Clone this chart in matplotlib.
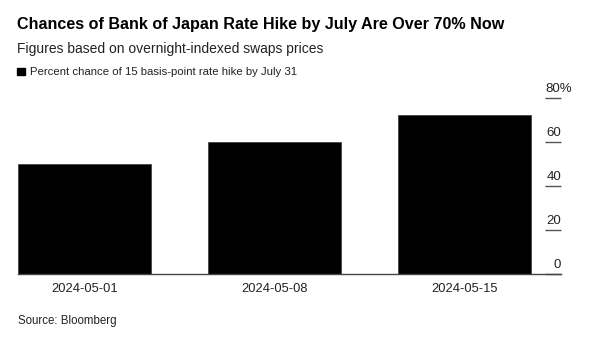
import matplotlib
matplotlib.use('Agg')
from matplotlib import pyplot as plt
import matplotlib.transforms as mtransforms
from matplotlib.patches import Rectangle

# data
dates = ['2024-05-01', '2024-05-08', '2024-05-15']
chance = [50, 60, 72]
yticks = [0, 20, 40, 60, 80]
ytick_labels = ['0', '20', '40', '60', '80%']

title = 'Chances of Bank of Japan Rate Hike by July Are Over 70% Now'
subtitle = 'Figures based on overnight-indexed swaps prices'
legend_label = 'Percent chance of 15 basis-point rate hike by July 31'
source = 'Source: Bloomberg'

plt.rcParams['font.family'] = ['Liberation Sans', 'DejaVu Sans']

W, H = 592, 337
fig = plt.figure(figsize=(W / 100, H / 100), dpi=100)
ax = fig.add_axes([18 / W, 63 / H, (561 - 18) / W, (274 - 97.7) / H])

x = list(range(len(dates)))
ax.bar(x, chance, width=0.7, color='black', edgecolor='#444', linewidth=0.6)

ax.set_xlim(-0.35, 2.51)
ax.set_ylim(0, 80)
ax.set_xticks(x)
ax.set_xticklabels(dates, fontsize=9.3, color='#222')
ax.tick_params(axis='x', length=0, pad=6.5)

ax.set_yticks(yticks)
ax.yaxis.tick_right()
ax.tick_params(axis='y', direction='in', length=11.5, width=1, color='#555', labelright=False)

for s in ['top', 'left', 'right']:
    ax.spines[s].set_visible(False)
ax.spines['bottom'].set_color('#444')
ax.spines['bottom'].set_linewidth(1)

# y labels sit above the tick lines; numbers right aligned, the top one hangs out
off = mtransforms.ScaledTranslation(0, 6 / 100, fig.dpi_scale_trans)
tr = mtransforms.blended_transform_factory(ax.transAxes, ax.transData) + off
off_top = mtransforms.ScaledTranslation(-16 / 100, 6 / 100, fig.dpi_scale_trans)
tr_top = mtransforms.blended_transform_factory(ax.transAxes, ax.transData) + off_top
for v, lab in zip(yticks, ytick_labels):
    if v == yticks[-1]:
        ax.text(1.0, v, lab, transform=tr_top, ha='left', va='baseline', fontsize=9.5, color='#222')
    else:
        ax.text(1.0, v, lab, transform=tr, ha='right', va='baseline', fontsize=9.5, color='#222')

fig.text(17 / W, 1 - 29 / H, title, fontsize=11.6, fontweight='bold', color='black', va='baseline')
fig.text(17 / W, 1 - 53.3 / H, subtitle, fontsize=10.0, color='#222', va='baseline')
fig.patches.append(Rectangle((17.3 / W, 1 - 75.3 / H), 7.6 / W, 7.6 / H,
                             transform=fig.transFigure, color='black'))
fig.text(30 / W, 1 - 75 / H, legend_label, fontsize=8.2, color='#222', va='baseline')
fig.text(18 / W, 1 - 324 / H, source, fontsize=8.3, color='#222', va='baseline')

fig.savefig('out.png', dpi=100)
